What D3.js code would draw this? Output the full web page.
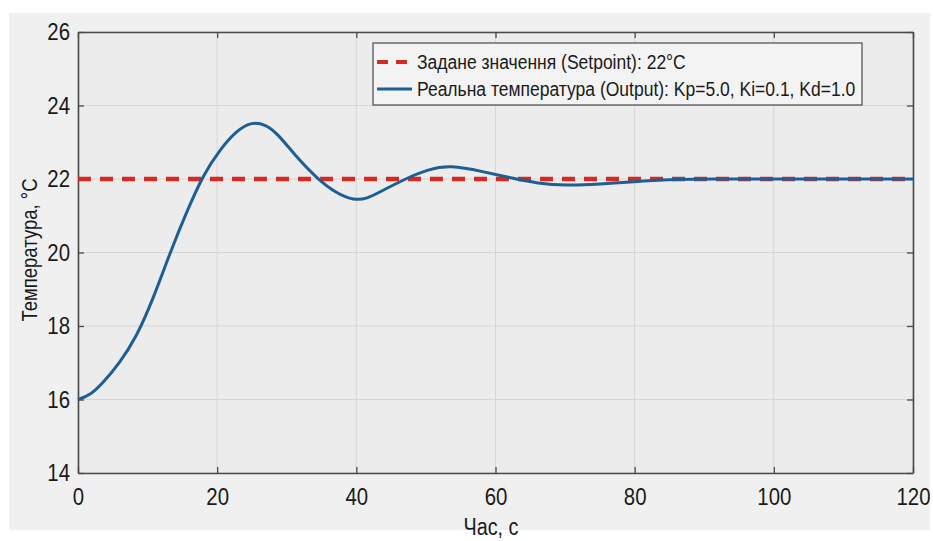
<!DOCTYPE html>
<html>
<head>
<meta charset="utf-8">
<script src="https://cdn.jsdelivr.net/npm/d3@7"></script>
<style>
  body { margin:0; background:#ffffff; }
  svg text { font-family: "Liberation Sans", Arial, sans-serif; fill:#1a1a1a; }
</style>
</head>
<body>
<div id="chart"></div>
<script>
var times = [0, 1.8, 3.6, 6, 8.4, 10.8, 13.2, 15.6, 18, 20.4, 22.8, 25, 27, 28.6, 31.4, 34.3, 37.2, 39.7, 41.5, 43.5, 47.2, 50.3, 53.5, 58.2, 62.5, 66, 70.2, 75, 79.8, 85, 90, 105, 120];
var temps = [16.0, 16.12, 16.45, 17.0, 17.7, 18.74, 19.98, 21.1, 22.12, 22.8, 23.32, 23.56, 23.48, 23.25, 22.6, 22.02, 21.6, 21.42, 21.46, 21.66, 22.02, 22.26, 22.38, 22.2, 22.02, 21.88, 21.82, 21.86, 21.93, 21.99, 22.0, 22.0, 22.0];
var setpoint = 22;
var xTicks = [0, 20, 40, 60, 80, 100, 120];
var yTicks = [14, 16, 18, 20, 22, 24, 26];
var legendLabels = ["Задане значення (Setpoint): 22°C", "Реальна температура (Output): Kp=5.0, Ki=0.1, Kd=1.0"];

var W = 933, H = 541;
var m = {left:78, right:20, top:32, bottom:68};
var pw = 913 - m.left, ph = 473 - m.top;

var svg = d3.select("#chart").append("svg").attr("width", W).attr("height", H);
svg.append("rect").attr("x", 9).attr("y", 13).attr("width", 921).attr("height", 517).attr("fill", "#f0f0f0");

var g = svg.append("g").attr("transform", "translate(" + m.left + "," + m.top + ")");

var x = d3.scaleLinear().domain([0, 120]).range([0, pw]);
var y = d3.scaleLinear().domain([14, 26]).range([ph, 0]);

g.append("rect").attr("width", pw).attr("height", ph).attr("fill", "#ececec");

// grid
g.selectAll(".gx").data(xTicks).enter().append("line")
  .attr("x1", d => x(d)).attr("x2", d => x(d)).attr("y1", 0).attr("y2", ph)
  .attr("stroke", "#d6d6d6").attr("stroke-width", 1);
g.selectAll(".gy").data(yTicks).enter().append("line")
  .attr("y1", d => y(d)).attr("y2", d => y(d)).attr("x1", 0).attr("x2", pw)
  .attr("stroke", "#d6d6d6").attr("stroke-width", 1);

function squeeze(t, k) {
  var l = t.node().getComputedTextLength();
  t.attr("textLength", l * k).attr("lengthAdjust", "spacingAndGlyphs");
}

var xAxis = g.append("g").attr("transform", "translate(0," + ph + ")")
  .call(d3.axisBottom(x).tickValues(xTicks).tickSizeInner(-6).tickSizeOuter(0).tickPadding(15).tickFormat(d3.format("d")));
var yAxis = g.append("g")
  .call(d3.axisLeft(y).tickValues(yTicks).tickSizeInner(-6).tickSizeOuter(0).tickPadding(8).tickFormat(d3.format("d")));
g.append("g").call(d3.axisTop(x).tickValues(xTicks).tickSizeInner(-6).tickSizeOuter(0).tickFormat(""));
g.append("g").attr("transform", "translate(" + pw + ",0)")
  .call(d3.axisRight(y).tickValues(yTicks).tickSizeInner(-6).tickSizeOuter(0).tickFormat(""));

g.selectAll(".domain").attr("stroke", "#4a4a4a").attr("stroke-width", 1.6);
g.selectAll(".tick line").attr("stroke", "#4a4a4a").attr("stroke-width", 1.3);
[xAxis, yAxis].forEach(function(a) {
  a.selectAll("text").attr("font-size", 24).attr("fill", "#1a1a1a")
    .style("font-family", "'Liberation Sans', Arial, sans-serif")
    .each(function() { squeeze(d3.select(this), 0.85); });
});

// setpoint
g.append("line")
  .attr("x1", x(0)).attr("x2", x(120)).attr("y1", y(setpoint)).attr("y2", y(setpoint))
  .attr("stroke", "#d42a20").attr("stroke-width", 4.5).attr("stroke-dasharray", "13,9");

// output curve
var line = d3.line().x((d, i) => x(times[i])).y(d => y(d)).curve(d3.curveBasis);
g.append("path").datum(temps)
  .attr("d", line).attr("fill", "none")
  .attr("stroke", "#1d5f94").attr("stroke-width", 3);

// legend
var lg = svg.append("g").attr("transform", "translate(373,43)");
lg.append("rect").attr("width", 489).attr("height", 62)
  .attr("fill", "#f3f3f3").attr("stroke", "#4a4a4a").attr("stroke-width", 1.2);
lg.append("line").attr("x1", 4).attr("x2", 39).attr("y1", 19).attr("y2", 19)
  .attr("stroke", "#d42a20").attr("stroke-width", 4).attr("stroke-dasharray", "11,8");
lg.append("line").attr("x1", 4).attr("x2", 39).attr("y1", 46).attr("y2", 46)
  .attr("stroke", "#1d5f94").attr("stroke-width", 3);
lg.selectAll(".lt").data(legendLabels).enter().append("text")
  .attr("x", 44).attr("y", (d, i) => 26 + i * 27)
  .attr("font-size", 20).text(d => d)
  .each(function() { squeeze(d3.select(this), 0.875); });

// axis titles
var xl = svg.append("text").attr("x", 491).attr("y", 535)
  .attr("text-anchor", "middle").attr("font-size", 23).text("Час, с");
var yl = svg.append("text")
  .attr("transform", "translate(37,250) rotate(-90)")
  .attr("text-anchor", "middle").attr("font-size", 22).text("Температура, °C");
squeeze(xl, 0.86);
squeeze(yl, 0.84);
</script>
</body>
</html>
